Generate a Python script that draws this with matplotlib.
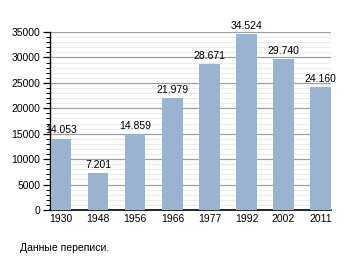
import matplotlib

matplotlib.use("Agg")
import matplotlib.pyplot as plt
from matplotlib.ticker import MultipleLocator

plt.rcParams["font.family"] = ["Liberation Sans", "DejaVu Sans"]

ANIOS = ["1930", "1948", "1956", "1966", "1977", "1992", "2002", "2011"]
POBLACION = [14053, 7201, 14859, 21979, 28671, 34524, 29740, 24160]
ETIQUETAS = ["14.053", "7.201", "14.859", "21.979", "28.671", "34.524", "29.740", "24.160"]

COLOR_BARRA = "#99b3d0"

fig = plt.figure(figsize=(3.6, 2.6), dpi=100)
ax = fig.add_axes([50 / 360, 50 / 260, 281 / 360, 178 / 260])

x = range(len(ANIOS))
ax.bar(x, POBLACION, width=0.55, color=COLOR_BARRA, zorder=3)
for xi, v, et in zip(x, POBLACION, ETIQUETAS):
    ax.text(xi, v + 600, et, ha="center", va="bottom", fontsize=7.5, zorder=4)

ax.set_xlim(-0.3, 7.28)
ax.set_ylim(0, 35000)
ax.yaxis.set_major_locator(MultipleLocator(5000))
ax.yaxis.set_minor_locator(MultipleLocator(1000))
ax.grid(which="major", axis="y", color="#a0a0a0", linewidth=0.9, zorder=1)
ax.grid(which="minor", axis="y", color="#ebebeb", linewidth=0.8, zorder=1)
ax.set_xticks(list(x))
ax.set_xticklabels(ANIOS)
ax.tick_params(axis="x", length=0, labelsize=7.5, pad=3)
ax.tick_params(axis="y", which="major", length=5, width=0.9, labelsize=7.5, pad=2)
ax.tick_params(axis="y", which="minor", length=3, width=0.7)
for lado in ["top", "right"]:
    ax.spines[lado].set_visible(False)
ax.spines["left"].set_linewidth(1)
ax.spines["bottom"].set_linewidth(1.2)

fig.text(20 / 360, 1 - 248 / 260, "Данные переписи.", fontsize=7.5, va="center")

fig.savefig("out.png", dpi=100)
